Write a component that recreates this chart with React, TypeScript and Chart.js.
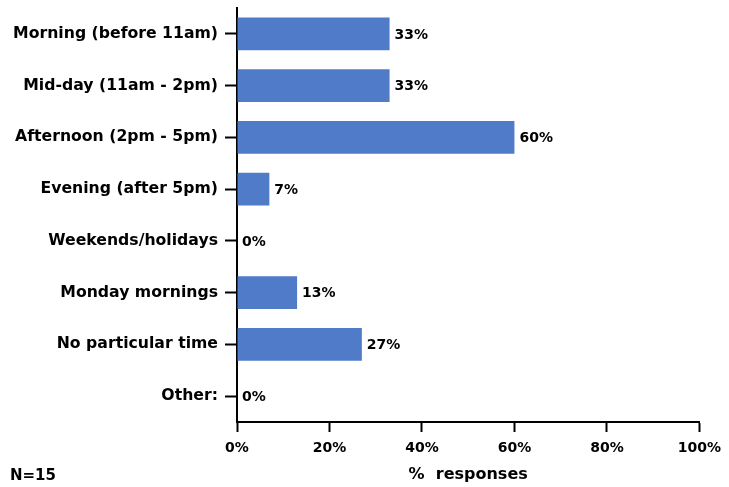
import React, { useEffect, useRef } from "react";
import { Chart, registerables } from "chart.js";

Chart.register(...registerables);

const categories = [
  "Morning (before 11am)",
  "Mid-day (11am - 2pm)",
  "Afternoon (2pm - 5pm)",
  "Evening (after 5pm)",
  "Weekends/holidays",
  "Monday mornings",
  "No particular time",
  "Other:",
];
const responses = [33, 33, 60, 7, 0, 13, 27, 0];
const xTicks = [0, 20, 40, 60, 80, 100];
const axisTitle = "%  responses";
const footnote = "N=15";

const FONT = "'DejaVu Sans', Verdana, sans-serif";

const barLabels = {
  id: "barLabels",
  afterDatasetsDraw(chart: any) {
    const ctx = chart.ctx;
    const meta = chart.getDatasetMeta(0);
    ctx.save();
    ctx.font = `bold 14px ${FONT}`;
    ctx.fillStyle = "#000";
    ctx.textAlign = "left";
    ctx.textBaseline = "middle";
    meta.data.forEach((bar: any, i: number) => {
      ctx.fillText(`${responses[i]}%`, bar.x + 5, bar.y + 1);
    });
    ctx.restore();
  },
};

const footnotePlugin = {
  id: "footnote",
  afterDraw(chart: any) {
    const ctx = chart.ctx;
    ctx.save();
    ctx.font = `bold 15px ${FONT}`;
    ctx.fillStyle = "#000";
    ctx.textAlign = "left";
    ctx.textBaseline = "middle";
    ctx.fillText(footnote, 10, chart.height - 11);
    ctx.restore();
  },
};

export default function App() {
  const ref = useRef<HTMLCanvasElement | null>(null);
  useEffect(() => {
    if (!ref.current) return;
    const chart = new Chart(ref.current, {
      type: "bar",
      data: {
        labels: categories,
        datasets: [
          {
            data: responses,
            backgroundColor: "#4F7BC8",
            borderWidth: 0,
            barPercentage: 0.63,
            categoryPercentage: 1,
          },
        ],
      },
      options: {
        indexAxis: "y",
        animation: false,
        responsive: true,
        maintainAspectRatio: false,
        layout: { padding: { top: 8, left: 0, right: 3, bottom: 3 } },
        plugins: { legend: { display: false }, tooltip: { enabled: false } },
        scales: {
          y: {
            type: "category",
            offset: true,
            afterFit(scale: any) {
              scale.width = 237;
              scale.paddingTop = 0;
              scale.paddingBottom = 0;
            },
            grid: {
              display: true,
              drawOnChartArea: false,
              offset: false,
              tickLength: 12,
              tickWidth: 2,
              color: "#000",
            },
            border: { display: true, color: "#000", width: 2 },
            ticks: {
              color: "#000",
              padding: 7,
              font: { family: FONT, size: 15.7, weight: "bold" },
            },
          },
          x: {
            type: "linear",
            min: 0,
            max: 100,
            afterBuildTicks(scale: any) {
              scale.ticks = xTicks.map((v) => ({ value: v }));
            },
            grid: {
              display: true,
              drawOnChartArea: false,
              tickLength: 10,
              tickWidth: 2,
              color: "#000",
            },
            border: { display: true, color: "#000", width: 2 },
            ticks: {
              color: "#000",
              padding: 8,
              maxRotation: 0,
              callback: (v: any) => `${v}%`,
              font: { family: FONT, size: 14, weight: "bold" },
            },
            title: {
              display: true,
              text: axisTitle,
              color: "#000",
              padding: { top: 0, bottom: 0 },
              font: { family: FONT, size: 16, weight: "bold" },
            },
          },
        },
      },
      plugins: [barLabels, footnotePlugin],
    });
    return () => chart.destroy();
  }, []);
  return (
    <div style={{ position: "fixed", left: 0, top: 0, width: 729, height: 487, background: "#fff" }}>
      <canvas ref={ref} />
    </div>
  );
}
